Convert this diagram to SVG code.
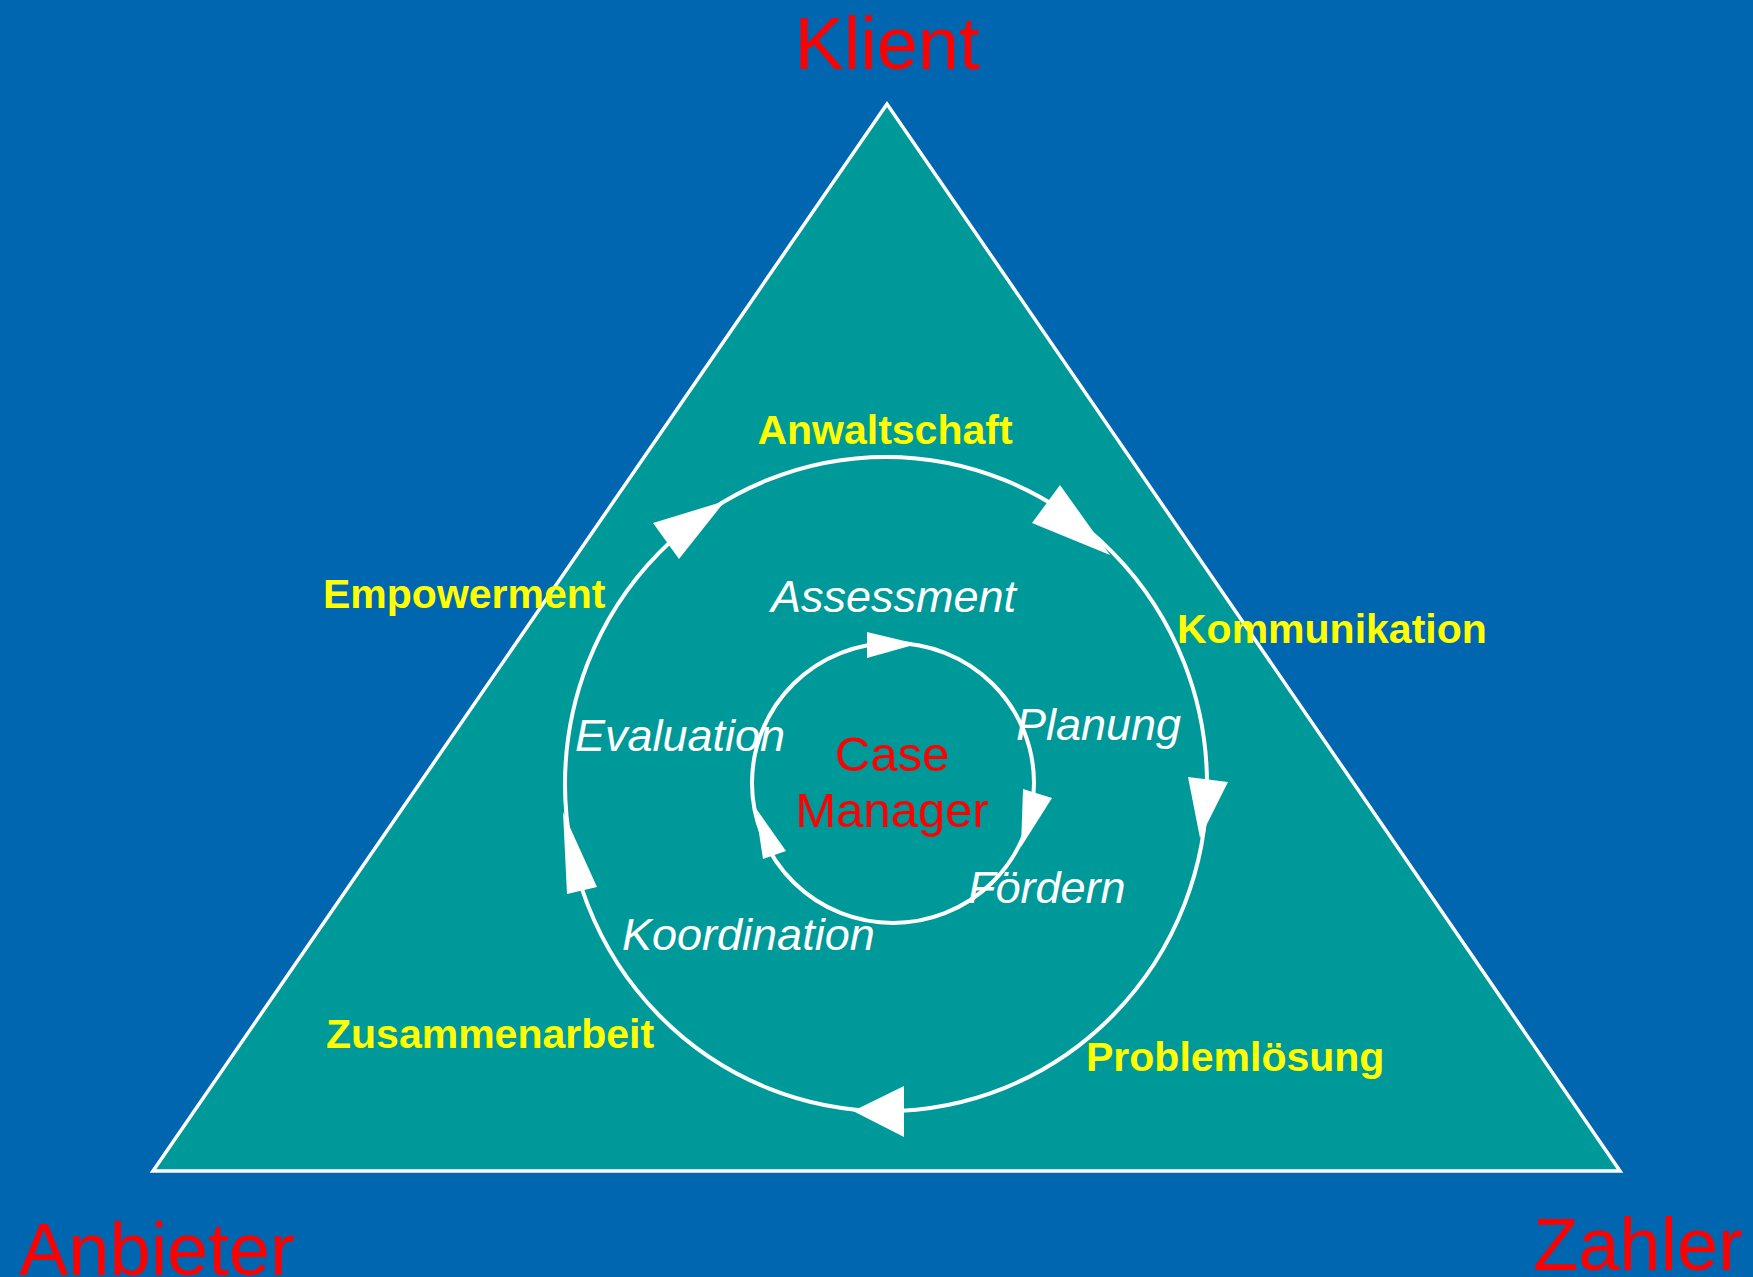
<svg xmlns="http://www.w3.org/2000/svg" width="1753" height="1277" viewBox="0 0 1753 1277">
<style>
.corner{font-family:"Liberation Sans",Arial,sans-serif;font-size:74px;fill:#FF0000}
.role{font-family:"Liberation Sans",Arial,sans-serif;font-size:41px;font-weight:bold;fill:#FFFF00}
.step{font-family:"Liberation Sans",Arial,sans-serif;font-size:45px;font-style:italic;fill:#FFFFFF}
.cm{font-family:"Liberation Sans",Arial,sans-serif;font-size:49px;fill:#FF0000}
.ring{fill:none;stroke:#FFFFFF;stroke-width:4}
.head{fill:#FFFFFF;stroke:none}
</style>
<rect width="1753" height="1277" fill="#0066B0"/>
<g id="triangle">
<polygon points="887,104 153,1171 1620,1171" fill="#009999" stroke="#FFFFFF" stroke-width="3.5"/>
</g>
<g id="connectors">
<ellipse class="ring" cx="886" cy="784" rx="321" ry="327"/>
<polygon class="head" points="653,523 725,501 679,559"/>
<polygon class="head" points="1060,485 1032,523 1110,555"/>
<polygon class="head" points="1188,777 1228,782 1200,838"/>
<polygon class="head" points="904,1086 904,1137 853,1111"/>
<polygon class="head" points="563,812 597,887 567,894"/>
<ellipse class="ring" cx="893" cy="783" rx="141" ry="140"/>
<polygon class="head" points="867,632 867,658 917,644"/>
<polygon class="head" points="1023,789 1052,798 1021,847"/>
<polygon class="head" points="755,807 786,851 763,859"/>
</g>
<g id="klient"><text class="corner" x="887" y="69" text-anchor="middle">Klient</text></g>
<g id="anbieter"><text class="corner" x="19" y="1275">Anbieter</text></g>
<g id="zahler"><text class="corner" x="1533" y="1270">Zahler</text></g>
<g id="anwaltschaft"><text class="role" x="885" y="444" text-anchor="middle">Anwaltschaft</text></g>
<g id="empowerment"><text class="role" x="323" y="608">Empowerment</text></g>
<g id="kommunikation"><text class="role" x="1177" y="643">Kommunikation</text></g>
<g id="zusammenarbeit"><text class="role" x="326" y="1048">Zusammenarbeit</text></g>
<g id="problemloesung"><text class="role" x="1086" y="1071">Problemlösung</text></g>
<g id="assessment"><text class="step" x="771" y="612">Assessment</text></g>
<g id="planung"><text class="step" x="1016" y="740">Planung</text></g>
<g id="foerdern"><text class="step" x="968" y="903">Fördern</text></g>
<g id="koordination"><text class="step" x="622" y="950">Koordination</text></g>
<g id="evaluation"><text class="step" x="575" y="751">Evaluation</text></g>
<g id="case-manager">
<text class="cm" x="892" y="771" text-anchor="middle">Case</text>
<text class="cm" x="892" y="827" text-anchor="middle">Manager</text>
</g>
</svg>
